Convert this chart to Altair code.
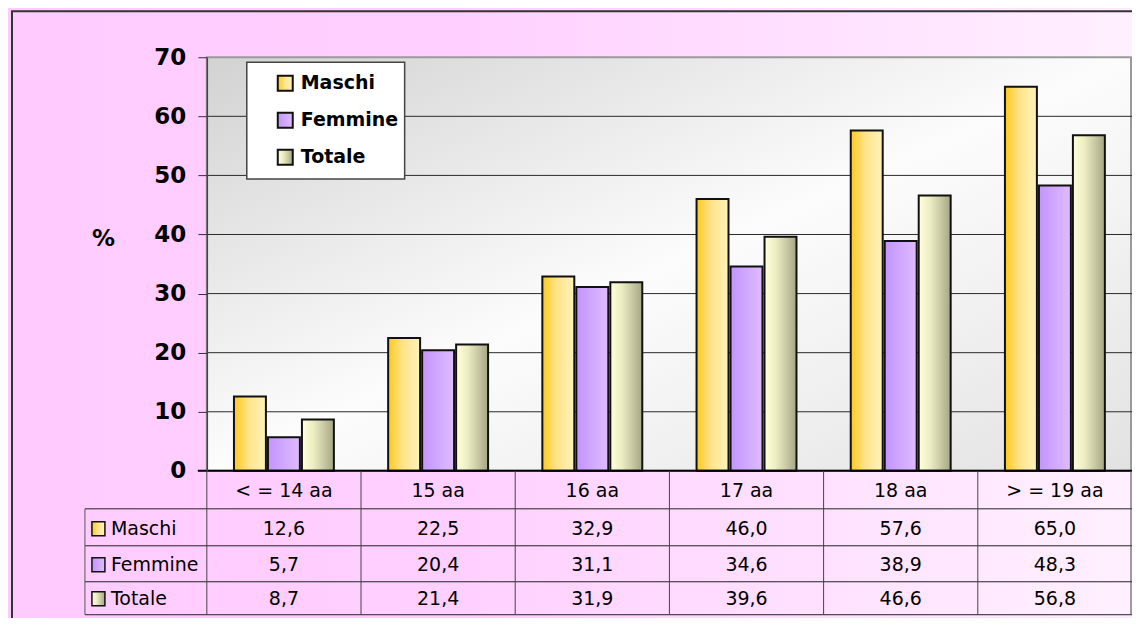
import altair as alt
import pandas as pd

# ---------------- data ----------------
categories = ["< = 14 aa", "15 aa", "16 aa", "17 aa", "18 aa", "> = 19 aa"]
series = ["Maschi", "Femmine", "Totale"]
maschi = [12.6, 22.5, 32.9, 46.0, 57.6, 65.0]
femmine = [5.7, 20.4, 31.1, 34.6, 38.9, 48.3]
totale = [8.7, 21.4, 31.9, 39.6, 46.6, 56.8]
y_ticks = [0, 10, 20, 30, 40, 50, 60, 70]

rows = []
for s, vals in zip(series, [maschi, femmine, totale]):
    for c, v in zip(categories, vals):
        rows.append({"cat": c, "series": s, "value": v,
                     "label": f"{v:.1f}".replace(".", ",")})
df = pd.DataFrame(rows)
cat_df = pd.DataFrame({"cat": categories})
grid_df = pd.DataFrame({"v": y_ticks[1:-1]})

# ---------------- layout / style ----------------
W, H = 926, 414
PAD = {"left": 199, "top": 49, "right": 0, "bottom": 147}
FONT = "DejaVu Sans"
TXT = 19


def grad(stops, x2=1, y2=0):
    return alt.LinearGradient(
        gradient="linear",
        stops=[alt.GradientStop(color=c, offset=o) for o, c in stops],
        x1=0, y1=0, x2=x2, y2=y2)


fills = {
    "Maschi": grad([(0, "#FFC81E"), (0.45, "#FFE38A"), (1, "#FFF3BC")]),
    "Femmine": grad([(0, "#C394FF"), (1, "#DEBCFF")]),
    "Totale": grad([(0, "#FFFFDC"), (0.35, "#EEEEC4"), (1, "#A6A686")]),
}
bg_fill = grad([(0, "#FFCBFF"), (0.4, "#FFD0FF"), (1, "#FFF0FF")])
plot_fill = grad([(0, "#D2D2D2"), (0.5, "#FCFCFC"), (1, "#E2E2E2")], x2=1, y2=1)

xscale = alt.Scale(domain=categories, paddingInner=0.352, paddingOuter=0.176)
yscale = alt.Scale(domain=[0, 70], nice=False, zero=True)
yaxis = alt.Axis(values=y_ticks, grid=False, tickSize=9, tickColor="#333",
                 tickWidth=1, domainColor="#444", domainWidth=1.5,
                 labelFont=FONT, labelFontSize=23, labelFontWeight="bold",
                 labelColor="#000", labelPadding=12, labelFlush=False,
                 labelOverlap=False,
                 title="%", titleAngle=0, titleX=-104, titleY=181,
                 titleAlign="center", titleBaseline="middle", titleFont=FONT,
                 titleFontSize=23, titleFontWeight="bold", titleColor="#000",
                 zindex=1)
X = lambda: alt.X("cat:N", scale=xscale, axis=None)
one = lambda **kw: alt.Chart(alt.Data(values=[dict(kw) if kw else {"a": 1}]))

layers = []
# page background and frame
layers.append(one().mark_rect(fill=bg_fill).encode(
    x=alt.value(-PAD["left"]), x2=alt.value(W + PAD["right"]),
    y=alt.value(-PAD["top"]), y2=alt.value(H + PAD["bottom"])))
layers.append(one().mark_rect(fill="white", fillOpacity=0, stroke="#333",
                              strokeWidth=2).encode(
    x=alt.value(-195), x2=alt.value(W + 40),
    y=alt.value(-46), y2=alt.value(H + 220)))
# plot area
layers.append(one().mark_rect(fill=plot_fill, stroke="#9A9A9A",
                              strokeWidth=2).encode(
    x=alt.value(0), x2=alt.value(W - 1), y=alt.value(0), y2=alt.value(H)))
# gridlines
layers.append(alt.Chart(grid_df).mark_rule(color="#2A2A2A", strokeWidth=1).encode(
    y=alt.Y("v:Q", scale=yscale, axis=yaxis)))
# bars
for s in series:
    layers.append(alt.Chart(df).transform_filter(alt.datum.series == s)
                  .mark_bar(fill=fills[s], stroke="#111", strokeWidth=2)
                  .encode(x=X(),
                          xOffset=alt.XOffset("series:N", scale=alt.Scale(
                              domain=series, paddingInner=0.06, paddingOuter=0)),
                          y=alt.Y("value:Q", scale=yscale, axis=yaxis)))
# bottom axis line
layers.append(one().mark_rule(color="#000", strokeWidth=2).encode(
    x=alt.value(-9), x2=alt.value(W), y=alt.value(H), y2=alt.value(H)))

# ---------------- data table ----------------
row_lines = [452, 489, 525, 558]
for yy in row_lines:
    layers.append(one().mark_rule(color="#222", strokeWidth=1).encode(
        x=alt.value(-122), x2=alt.value(W), y=alt.value(yy), y2=alt.value(yy)))
layers.append(one().mark_rule(color="#555", strokeWidth=1).encode(
    x=alt.value(-122), x2=alt.value(-122), y=alt.value(452), y2=alt.value(558)))
layers.append(alt.Chart(cat_df).mark_rule(color="#444", strokeWidth=1,
                                          xOffset=-W / 12).encode(
    x=X(), y=alt.value(H), y2=alt.value(558)))
layers.append(one().mark_rule(color="#444", strokeWidth=1).encode(
    x=alt.value(W - 1), x2=alt.value(W - 1), y=alt.value(H), y2=alt.value(558)))

layers.append(alt.Chart(cat_df).mark_text(font=FONT, fontSize=TXT, color="#000",
                                          baseline="middle", align="center").encode(
    x=X(), y=alt.value(434), text="cat:N"))

row_y = {"Maschi": 472, "Femmine": 508, "Totale": 542}
for s in series:
    ry = row_y[s]
    layers.append(alt.Chart(df).transform_filter(alt.datum.series == s)
                  .mark_text(font=FONT, fontSize=TXT, color="#000",
                             baseline="middle", align="center")
                  .encode(x=X(), y=alt.value(ry), text="label:N"))
    layers.append(one(s=s).mark_rect(fill=fills[s], stroke="#111",
                                     strokeWidth=1.5).encode(
        x=alt.value(-115), x2=alt.value(-102),
        y=alt.value(ry - 7), y2=alt.value(ry + 7)))
    layers.append(one(s=s).mark_text(font=FONT, fontSize=TXT, color="#000",
                                     baseline="middle", align="left").encode(
        x=alt.value(-96), y=alt.value(ry), text="s:N"))

# ---------------- legend ----------------
layers.append(one().mark_rect(fill="white", stroke="#444", strokeWidth=1.5).encode(
    x=alt.value(40), x2=alt.value(198), y=alt.value(5), y2=alt.value(122)))
leg_y = {"Maschi": 26, "Femmine": 63, "Totale": 100}
for s in series:
    ly = leg_y[s]
    layers.append(one(s=s).mark_rect(fill=fills[s], stroke="#111",
                                     strokeWidth=2).encode(
        x=alt.value(71), x2=alt.value(86),
        y=alt.value(ly - 7.5), y2=alt.value(ly + 7.5)))
    layers.append(one(s=s).mark_text(font=FONT, fontSize=19, fontWeight="bold",
                                     color="#000", baseline="middle",
                                     align="left").encode(
        x=alt.value(94), y=alt.value(ly), text="s:N"))

chart = alt.layer(*layers).properties(
    width=W, height=H, padding=PAD,
    autosize=alt.AutoSizeParams(type="none"),
    background="#FFCCFF",
).configure_view(strokeWidth=0)

chart.save("out.html", embed_options={"renderer": "svg", "actions": False})
